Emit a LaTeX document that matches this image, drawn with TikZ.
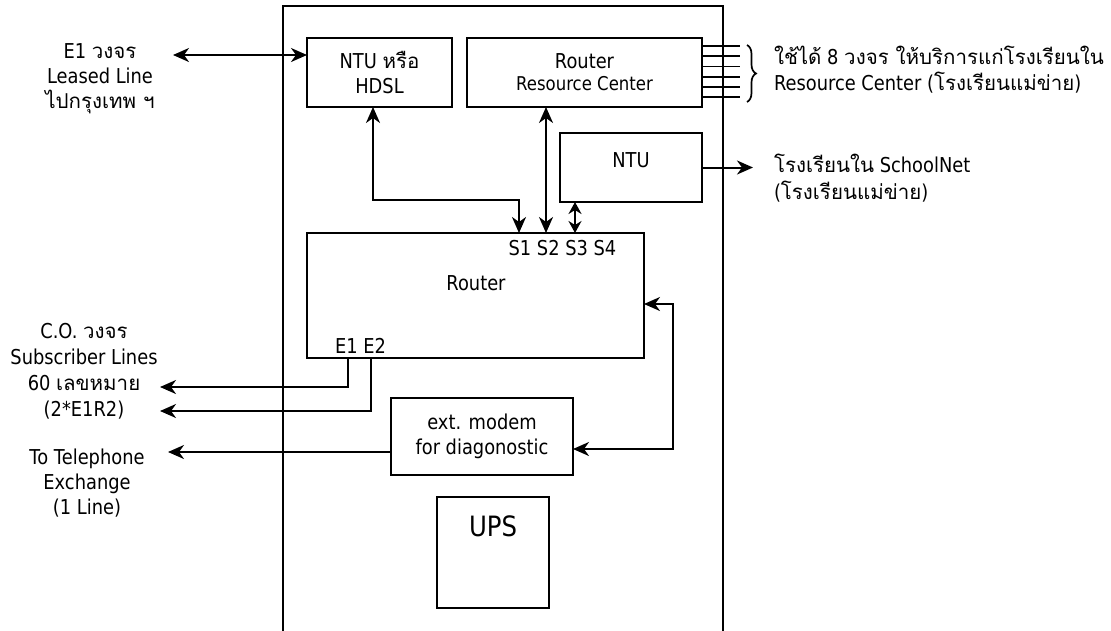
\documentclass[tikz,border=0pt]{standalone}
\usepackage{fontspec}
\setmainfont{DejaVu Sans}[FakeStretch=0.87]
\newfontfamily\thaifont[Script=Thai]{Loma}
\usetikzlibrary{arrows.meta,decorations.pathreplacing}
\newcommand{\tht}[1]{{\thaifont #1}}
\begin{document}
\begin{tikzpicture}[x=1pt,y=-1pt,
  line width=2pt,
  >={Stealth[length=16pt,width=14pt,inset=5pt]},
  box/.style={draw, inner sep=0pt, outer sep=0pt},
  txt/.style={inner sep=0pt, align=center, font=\fontsize{20.5}{25}\selectfont},
]
\useasboundingbox (0,0) rectangle (1111,630);

% cabinet outline, open at the bottom
\draw (283,634) -- (283,6) -- (723,6) -- (723,634);

% equipment inside the cabinet
\node[box, minimum width=145pt, minimum height=69pt, txt] (hdsl) at (379.5,72.5)
  {NTU \tht{หรือ}\\HDSL};
\node[box, minimum width=235pt, minimum height=69pt, txt] (rc) at (584.5,72.5)
  {Router\\[-3pt]{\fontsize{19}{22}\selectfont Resource Center}};
\node[box, minimum width=142pt, minimum height=69pt] (ntu) at (631,167.5) {};
\node[txt] (ntulbl) at (631,160) {NTU};
\node[box, minimum width=337pt, minimum height=125pt] (router) at (475.5,295.5) {};
\node[txt] (routerlbl) at (476,283) {Router};
\node[txt] (sports) at (562.5,248) {S1 S2 S3 S4};
\node[txt] (eports) at (360.5,346) {E1 E2};
\node[box, minimum width=182pt, minimum height=77pt, txt] (modem) at (482,436.5)
  {ext. modem\\for diagonostic};
\node[box, minimum width=112pt, minimum height=111pt] (ups) at (493,552.5) {};
\node[inner sep=0pt, font=\fontsize{28}{30}\selectfont] (upslbl) at (493,526) {UPS};

% labels outside the cabinet
\node[txt] (leased) at (100,79) {E1 \tht{วงจร}\\Leased Line\\\tht{ไปกรุงเทพ ฯ}};
\node[txt, font=\fontsize{20.5}{26}\selectfont] (colines) at (84,371)
  {C.O. \tht{วงจร}\\Subscriber Lines\\60 \tht{เลขหมาย}\\(2*E1R2)};
\node[txt] (telex) at (87,483) {To Telephone\\Exchange\\(1 Line)};
\node[txt, align=left, anchor=west, font=\fontsize{20.5}{26}\selectfont] (rclines) at (773,70)
  {\tht{ใช้ได้} 8 \tht{วงจร ให้บริการแก่โรงเรียนใน}\\Resource Center (\tht{โรงเรียนแม่ข่าย})};
\node[txt, align=left, anchor=west, font=\fontsize{20.5}{27}\selectfont] (school) at (773,178.5)
  {\tht{โรงเรียนใน} SchoolNet\\(\tht{โรงเรียนแม่ข่าย})};

% free ends and port points
\coordinate (leasedEnd) at (173,55);
\coordinate (s1) at (519,233);
\coordinate (s2) at (546,233);
\coordinate (s3) at (575,233);
\coordinate (e1) at (348,358);
\coordinate (e2) at (371,358);
\coordinate (e1End) at (160,387);
\coordinate (e2End) at (160,411);
\coordinate (telEnd) at (168,452);
\coordinate (schoolEnd) at (753,167.5);

% connections
\draw[<->] (leasedEnd) -- (hdsl.west |- leasedEnd);
\draw[<->] ([xshift=-6.5pt]hdsl.south) |- (519,200) -- (s1);
\draw[<->] (rc.south -| s2) -- (s2);
\draw[<->, >={Stealth[length=12pt,width=13pt,inset=4pt]}] (ntu.south -| s3) -- (s3);
\draw[->] (ntu.east) -- (schoolEnd);
\draw[->] (e1) |- (e1End);
\draw[->] (e2) |- (e2End);
\draw[->] (modem.west |- telEnd) -- (telEnd);
\draw[<->] ([yshift=-8.5pt]router.east) -| (673,449) -- ([yshift=-12.5pt]modem.east);

% leased circuits of the resource-center router
\foreach \yy in {46,56.2,66.4,76.6,86.8,97}
  \draw[line width=1.8pt] (rc.east |- 0,\yy) -- (740,\yy);
\draw[line width=1.7pt, decorate, decoration={brace, amplitude=9pt}] (747,45) -- (747,102);
\end{tikzpicture}
\end{document}
